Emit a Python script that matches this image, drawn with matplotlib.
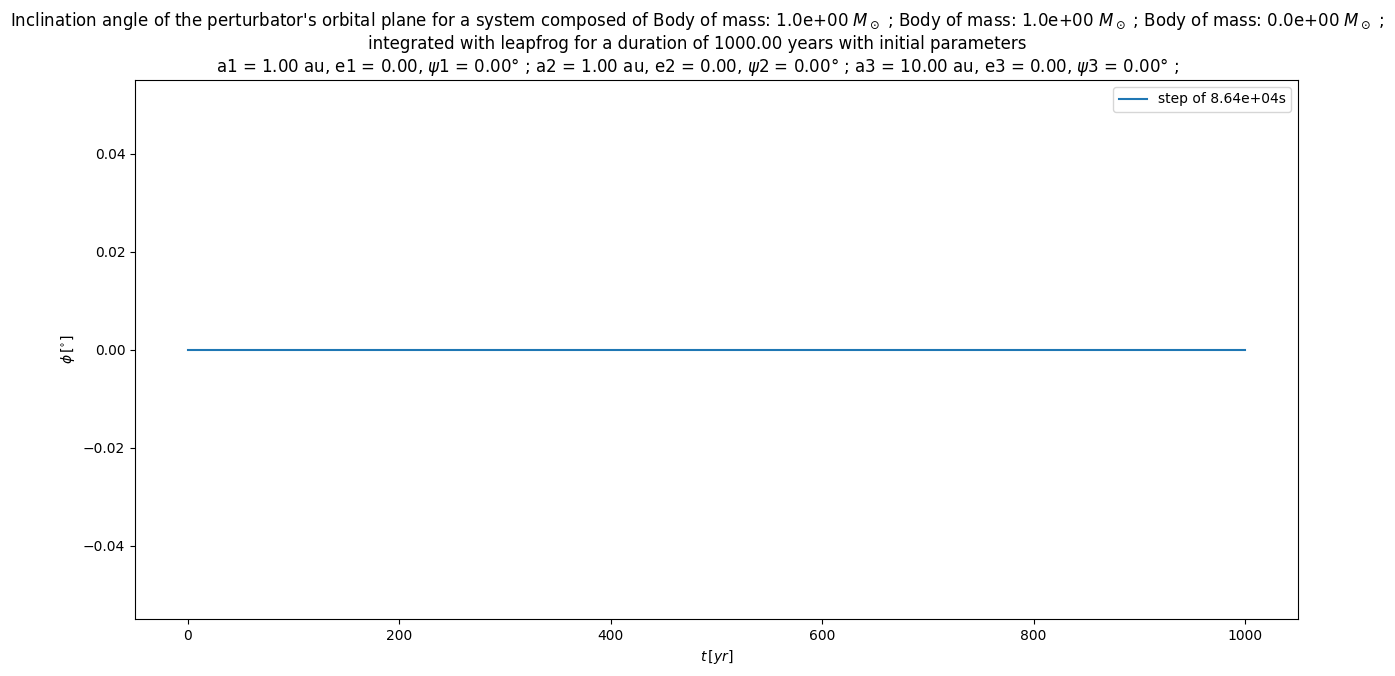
import numpy as np
import matplotlib
matplotlib.use("Agg")
import matplotlib.pyplot as plt

# data: angle stays at zero over the whole run
t_years = [0.0, 250.0, 500.0, 750.0, 1000.0]
phi_deg = [0.0, 0.0, 0.0, 0.0, 0.0]
step_label = "step of 8.64e+04s"

masses = [1.0, 1.0, 0.0]
a_vals = [1.00, 1.00, 10.00]
e_vals = [0.00, 0.00, 0.00]
psi_vals = [0.00, 0.00, 0.00]

line1 = "Inclination angle of the perturbator's orbital plane for a system composed of "
line1 += "".join("Body of mass: {:.1e} $M_\\odot$ ; ".format(m) for m in masses).rstrip()
line2 = "integrated with leapfrog for a duration of 1000.00 years with initial parameters"
line3 = " ".join(
    "a{0} = {1:.2f} au, e{0} = {2:.2f}, $\\psi${0} = {3:.2f}° ;".format(i + 1, a, e, p)
    for i, (a, e, p) in enumerate(zip(a_vals, e_vals, psi_vals))
)

fig, ax = plt.subplots(figsize=(13.95, 6.76), dpi=100)
fig.subplots_adjust(left=135 / 1395, right=1298 / 1395, top=1 - 80 / 676, bottom=1 - 619 / 676)

ax.plot(t_years, phi_deg, label=step_label)
ax.set_xlabel(r"$t\,[yr]$")
ax.set_ylabel(r"$\phi\,[^{\circ}]$")
# title is centred on the figure, not on the axes
fig.suptitle(line1 + "\n" + line2 + "\n" + line3, fontsize=12, y=0.985)
ax.legend(loc="upper right")

fig.savefig("out.png", dpi=100)
